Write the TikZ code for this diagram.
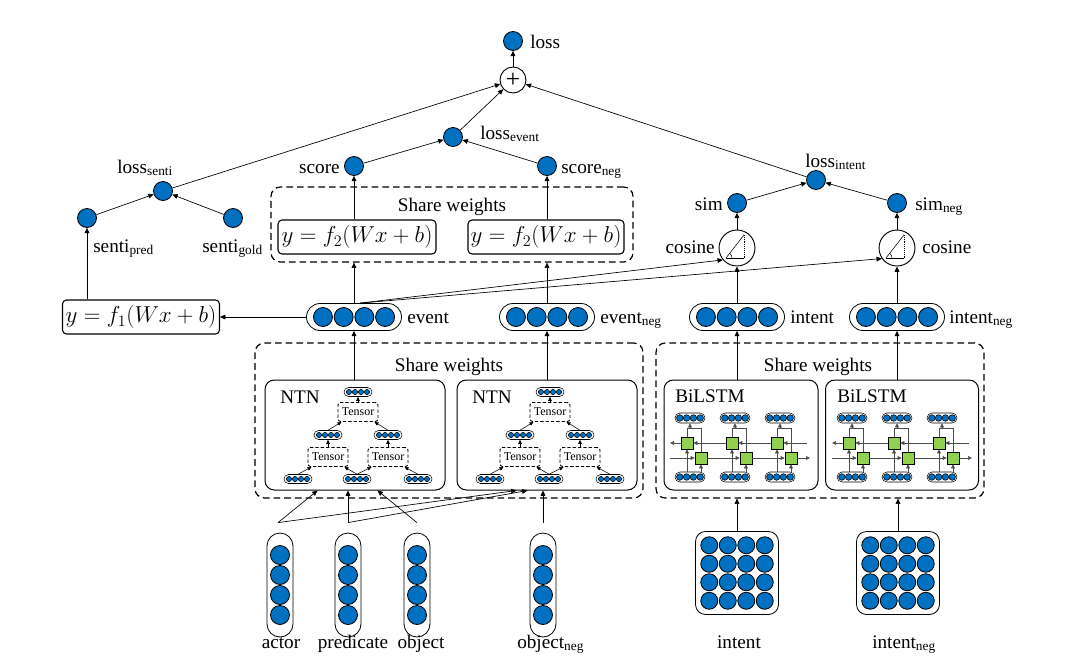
\documentclass[tikz,border=0pt]{standalone}
\usepackage{fontspec}
\setmainfont{Liberation Serif}
\usetikzlibrary{arrows.meta,calc}
\definecolor{ballblue}{RGB}{0,112,192}
\definecolor{cellgreen}{RGB}{146,208,80}
\newcommand\pxu{0.75pt}

\tikzset{
  every node/.style={font=\fontsize{14.4}{17}\selectfont, inner sep=0pt},
  ball/.style={circle, draw=black, fill=ballblue, line width=0.6pt, minimum size=19*\pxu},
  ballpath/.style={fill=ballblue, draw=black},
  pillbox/.style={rectangle, draw=black, fill=white},
  plusnode/.style={circle, draw=black, fill=white, line width=0.7pt, minimum size=26*\pxu,
    font=\fontsize{19}{20}\selectfont},
  cosnode/.style={circle, draw=black, fill=white, line width=0.7pt, minimum size=36*\pxu},
  fbox/.style={rectangle, draw=black, fill=white, line width=0.8pt, rounded corners=3pt,
    minimum height=34*\pxu, font=\fontsize{17}{20}\selectfont},
  dashbox/.style={rectangle, draw=black, line width=0.9pt, dash pattern=on 5pt off 3pt, rounded corners=7pt},
  solidbox/.style={rectangle, draw=black, line width=0.75pt, rounded corners=7pt},
  tensor/.style={rectangle, draw=black, fill=white, line width=0.7pt, dash pattern=on 2.5pt off 1.5pt,
    rounded corners=2pt, minimum width=40*\pxu, minimum height=19*\pxu, font=\fontsize{9}{10}\selectfont},
  cell/.style={rectangle, draw=black, fill=cellgreen, line width=0.4pt, minimum size=12*\pxu},
  link/.style={draw=black, line width=0.5pt, -{Triangle[length=4pt,width=3.6pt]}},
  slink/.style={draw=black, line width=0.4pt, -{Triangle[length=3pt,width=2.6pt]}},
  gline/.style={draw=black!70, line width=0.4pt},
  glink/.style={draw=black!70, line width=0.4pt, -{Triangle[length=3pt,width=2.8pt]}},
}

% horizontal vector of four units: name, x, y, width, height, radius, spacing, line width
\newcommand\hpill[8]{%
  \node[pillbox, line width=#8, minimum width=#4*\pxu, minimum height=#5*\pxu,
        rounded corners=#5*0.5*\pxu] (#1) at (#2,#3) {};
  \foreach \k in {-1.5,-0.5,0.5,1.5}
    \draw[ballpath, line width=#8] ({#2+\k*#7},{#3}) circle[radius=#6];
}
% vertical vector of four units: name, x, y
\newcommand\vpill[3]{%
  \node[pillbox, line width=0.6pt, minimum width=26*\pxu, minimum height=104*\pxu,
        rounded corners=13*\pxu] (#1) at (#2,#3) {};
  \foreach \k in {-1.5,-0.5,0.5,1.5}
    \draw[ballpath, line width=0.6pt] ({#2},{#3+\k*20}) circle[radius=9.5];
}
% 4x4 input matrix: name, x, y
\newcommand\gridbox[3]{%
  \node[pillbox, line width=0.6pt, minimum width=83*\pxu, minimum height=83*\pxu,
        rounded corners=10*\pxu] (#1) at (#2,#3) {};
  \foreach \i in {-1.5,-0.5,0.5,1.5}
    \foreach \j in {-1.5,-0.5,0.5,1.5}
      \draw[ballpath, line width=0.6pt] ({#2+\i*18.5},{#3+\j*18.5}) circle[radius=8.5];
}
% tensor tree inside an NTN block: prefix, left edge of the block
\newcommand\ntntree[2]{%
  \hpill{#1top}{#2+93}{392}{28}{9}{2.6}{6}{0.4pt}
  \node[tensor] (#1T) at (#2+93,412) {Tensor};
  \hpill{#1ml}{#2+63}{435}{28}{9}{2.6}{6}{0.4pt}
  \hpill{#1mr}{#2+123}{435}{28}{9}{2.6}{6}{0.4pt}
  \node[tensor] (#1Tl) at (#2+63,457) {Tensor};
  \node[tensor] (#1Tr) at (#2+123,457) {Tensor};
  \hpill{#1bl}{#2+33}{479}{28}{9}{2.6}{6}{0.4pt}
  \hpill{#1bm}{#2+92}{479}{28}{9}{2.6}{6}{0.4pt}
  \hpill{#1br}{#2+153}{479}{28}{9}{2.6}{6}{0.4pt}
  \draw[slink] (#1bl.north) -- ($(#1Tl.south west)+(4,0)$);
  \draw[slink] (#1bm.north) -- ($(#1Tl.south east)+(-4,0)$);
  \draw[slink] (#1bm.north) -- ($(#1Tr.south west)+(4,0)$);
  \draw[slink] (#1br.north) -- ($(#1Tr.south east)+(-4,0)$);
  \draw[slink] (#1Tl.north -| #1ml) -- (#1ml.south);
  \draw[slink] (#1Tr.north -| #1mr) -- (#1mr.south);
  \draw[slink] (#1ml.north) -- ($(#1T.south west)+(4,0)$);
  \draw[slink] (#1mr.north) -- ($(#1T.south east)+(-4,0)$);
  \draw[slink] (#1T.north -| #1top) -- (#1top.south);
}
% bidirectional LSTM cells inside a BiLSTM block: prefix, left edge of the block
\newcommand\bilstmcells[2]{%
  \foreach \s/\c in {1/26,2/71,3/116}{
    \pgfmathsetmacro\xc{#2+\c}
    \pgfmathsetmacro\xu{#2+\c-3}
    \pgfmathsetmacro\xl{#2+\c+11}
    \hpill{#1t\s}{\xc}{418}{30}{10}{3.3}{6.8}{0.4pt}
    \hpill{#1b\s}{\xc}{477}{30}{10}{3.3}{6.8}{0.4pt}
    \node[cell] (#1u\s) at (\xu,443) {};
    \node[cell] (#1l\s) at (\xl,458) {};
    \draw[gline] (#1u\s.north) -- (\xu,428) -- (\xl,428) -- (#1l\s.north);
    \draw[glink] (\xc,428) -- (#1t\s.south);
    \draw[glink] (#1b\s.north -| #1u\s) -- (#1u\s.south);
    \draw[glink] (#1b\s.north -| #1l\s) -- (#1l\s.south);
  }
  \draw[glink] (#2+143,443) -- (#1u3.east);
  \draw[glink] (#1u3.west) -- (#1u2.east);
  \draw[glink] (#1u2.west) -- (#1u1.east);
  \draw[glink] (#1u1.west) -- (#2+6,443);
  \draw[glink] (#2+6,458) -- (#1l1.west);
  \draw[glink] (#1l1.east) -- (#1l2.west);
  \draw[glink] (#1l2.east) -- (#1l3.west);
  \draw[glink] (#1l3.east) -- (#2+146,458);
}
% angle glyph inside a cosine node
\newcommand\cosglyph[1]{%
  \begin{scope}[shift={(#1.center)}]
    \draw[line width=0.4pt] (-11,10) -- (7,10);
    \draw[line width=0.4pt] (-11,10) -- (7,-13);
    \draw[line width=0.4pt, densely dotted] (7,-13) -- (7,10);
    \draw[line width=0.4pt] (-5,10) arc[start angle=0, end angle=-52, radius=6];
  \end{scope}
}

\begin{document}
\begin{tikzpicture}[x=0.75pt,y=-0.75pt]
\fill[white] (0,0) rectangle (1068,661);
\useasboundingbox (0,0) rectangle (1068,661);

% ---------- loss tree ----------
\node[ball] (loss) at (513,41) {};
\node[anchor=base west] (losstxt) at (530,48) {loss};
\node[plusnode] (plus) at (513,80) {+};
\node[ball] (lossev) at (453,137) {};
\node[anchor=base west] (lossevtxt) at (480,139) {loss\textsubscript{event}};
\node[ball] (score) at (354,166) {};
\node[anchor=base east] (scoretxt) at (340,173) {score};
\node[ball] (scoreneg) at (547,166) {};
\node[anchor=base west] (scorenegtxt) at (561,173) {score\textsubscript{neg}};
\node[ball] (losssenti) at (163,191) {};
\node[anchor=base west] (losssentitxt) at (117,173) {loss\textsubscript{senti}};
\node[ball] (sentipred) at (87,218) {};
\node[anchor=base west] (sentipredtxt) at (93,252) {senti\textsubscript{pred}};
\node[ball] (sentigold) at (233,218) {};
\node[anchor=base west] (sentigoldtxt) at (202,252) {senti\textsubscript{gold}};
\node[ball] (lossint) at (816,180) {};
\node[anchor=base west] (lossinttxt) at (805,167) {loss\textsubscript{intent}};
\node[ball] (sim) at (737,203) {};
\node[anchor=base east] (simtxt) at (723,210) {sim};
\node[ball] (simneg) at (897,203) {};
\node[anchor=base west] (simnegtxt) at (915,210) {sim\textsubscript{neg}};
\node[cosnode] (cos1) at (737,248) {};
\cosglyph{cos1}
\node[anchor=base east] (cos1txt) at (715,253) {cosine};
\node[cosnode] (cos2) at (897,248) {};
\cosglyph{cos2}
\node[anchor=base west] (cos2txt) at (922,253) {cosine};

% ---------- scoring layers ----------
\node[dashbox, minimum width=362*\pxu, minimum height=75*\pxu] (shareT) at (452,224.5) {};
\node[anchor=base] (shareTtxt) at (452,211) {Share weights};
\node[fbox, minimum width=158*\pxu] (f2l) at (357,237) {$y = f_2(Wx + b)$};
\node[fbox, minimum width=156*\pxu] (f2r) at (546,237) {$y = f_2(Wx + b)$};
\node[fbox, minimum width=157*\pxu] (f1) at (141,317) {$y = f_1(Wx + b)$};

% ---------- representation vectors ----------
\hpill{event}{354}{317}{95}{27}{9.5}{20.7}{0.6pt}
\node[anchor=base west] (eventtxt) at (407,323) {event};
\hpill{eventneg}{547}{317}{95}{27}{9.5}{20.7}{0.6pt}
\node[anchor=base west] (eventnegtxt) at (600,323) {event\textsubscript{neg}};
\hpill{intent}{737}{317}{95}{27}{9.5}{20.7}{0.6pt}
\node[anchor=base west] (intenttxt) at (790,323) {intent};
\hpill{intentneg}{897}{317}{95}{27}{9.5}{20.7}{0.6pt}
\node[anchor=base west] (intentnegtxt) at (949,323) {intent\textsubscript{neg}};

% ---------- encoders ----------
\node[dashbox, minimum width=388*\pxu, minimum height=155*\pxu] (shareL) at (449,420.5) {};
\node[anchor=base] (shareLtxt) at (449,371) {Share weights};
\node[solidbox, minimum width=180*\pxu, minimum height=110*\pxu] (ntn1) at (355,435) {};
\node[anchor=base west] (ntn1txt) at (280,403) {NTN};
\ntntree{na}{265}
\node[solidbox, minimum width=180*\pxu, minimum height=110*\pxu] (ntn2) at (547,435) {};
\node[anchor=base west] (ntn2txt) at (472,403) {NTN};
\ntntree{nb}{457}

\node[dashbox, minimum width=328*\pxu, minimum height=155*\pxu] (shareR) at (820,420.5) {};
\node[anchor=base] (shareRtxt) at (818,371) {Share weights};
\node[solidbox, minimum width=154*\pxu, minimum height=110*\pxu] (bil1) at (741,435) {};
\node[anchor=base west] (bil1txt) at (675,402) {BiLSTM};
\bilstmcells{ba}{664}
\node[solidbox, minimum width=153*\pxu, minimum height=110*\pxu] (bil2) at (902,435) {};
\node[anchor=base west] (bil2txt) at (837,402) {BiLSTM};
\bilstmcells{bb}{826}

% ---------- inputs ----------
\vpill{actor}{280}{585}
\node[anchor=base] (actortxt) at (281,648) {actor};
\vpill{pred}{348}{585}
\node[anchor=base] (predtxt) at (353,648) {predicate};
\vpill{obj}{417}{585}
\node[anchor=base] (objtxt) at (421,648) {object};
\vpill{objneg}{543}{585}
\node[anchor=base west] (objnegtxt) at (517,648) {object\textsubscript{neg}};
\gridbox{mat1}{737}{573}
\node[anchor=base] (mat1txt) at (739,648) {intent};
\gridbox{mat2}{898}{573}
\node[anchor=base west] (mat2txt) at (872,648) {intent\textsubscript{neg}};

% ---------- connectors ----------
\draw[link] (plus) -- (loss);
\draw[link] (losssenti) -- (plus);
\draw[link] (lossev) -- (plus);
\draw[link] (lossint) -- (plus);
\draw[link] (score) -- (lossev);
\draw[link] (scoreneg) -- (lossev);
\draw[link] (sentipred) -- (losssenti);
\draw[link] (sentigold) -- (losssenti);
\draw[link] (sim) -- (lossint);
\draw[link] (simneg) -- (lossint);
\draw[link] (cos1.north) -- (sim.south);
\draw[link] (cos2.north) -- (simneg.south);
\draw[link] (intent.north) -- (cos1.south);
\draw[link] (intentneg.north) -- (cos2.south);
\draw[link] (f1.north -| sentipred) -- (sentipred.south);
\draw[link] (f2l.north -| score) -- (score.south);
\draw[link] (f2r.north -| scoreneg) -- (scoreneg.south);
\draw[link] (event.west) -- (f1.east);
\draw[link] (event.north) -- (event.north |- shareT.south);
\draw[link] (eventneg.north) -- (eventneg.north |- shareT.south);
\coordinate (evtap) at ($(event.north)+(6,0)$);
\draw[link] (evtap) -- (cos1.220);
\draw[link] (evtap) -- (cos2.215);

\draw[link] (ntn1.north -| event) -- (event.south);
\draw[link] (ntn2.north -| eventneg) -- (eventneg.south);
\draw[link] (bil1.north -| intent) -- (intent.south);
\draw[link] (bil2.north -| intentneg) -- (intentneg.south);
\draw[link] (mat1.north) -- (mat1.north |- shareR.south);
\draw[link] (mat2.north) -- (mat2.north |- shareR.south);

\coordinate (forkA) at ($(actor.north)+(-2,-10)$);
\coordinate (forkP) at ($(pred.north)+(0,-10)$);
\coordinate (forkO) at ($(obj.north)+(0,-10)$);
\coordinate (forkN) at ($(objneg.north)+(0,-10)$);
\draw[link] (forkA) -- ($(ntn1.south west)+(53,0)$);
\draw[link] (forkA) -- ($(ntn2.south west)+(60,0)$);
\draw[link] (forkP) -- (forkP |- ntn1.south);
\draw[link] (forkP) -- ($(ntn2.south west)+(71,0)$);
\draw[link] (forkO) -- ($(ntn1.south west)+(113,0)$);
\draw[link] (forkN) -- (forkN |- ntn2.south);
\end{tikzpicture}
\end{document}
